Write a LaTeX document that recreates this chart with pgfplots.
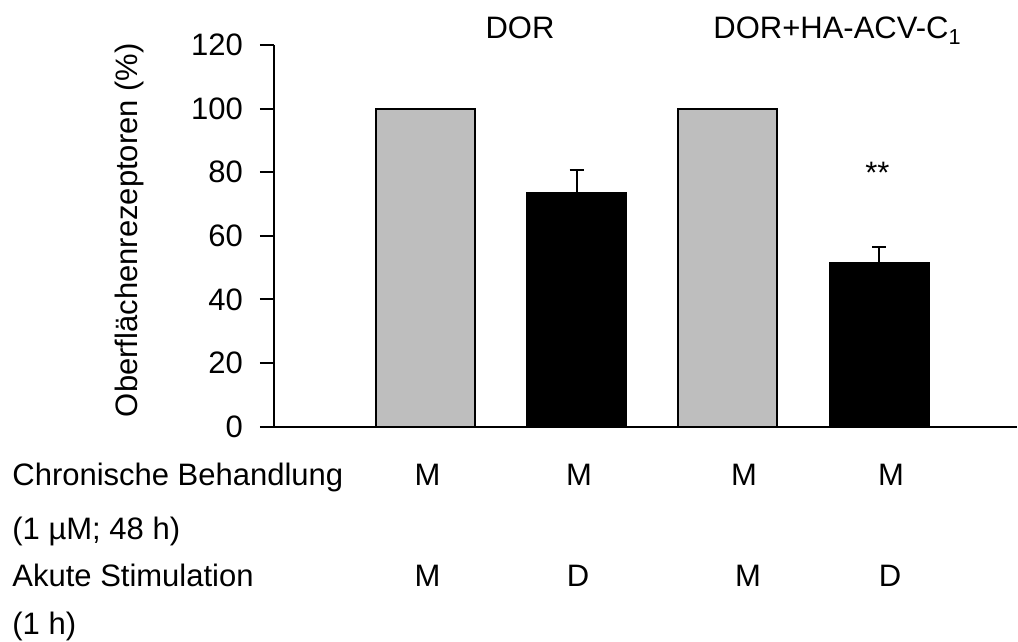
\documentclass[border=0pt]{standalone}
\usepackage{fontspec}
\setmainfont{Liberation Sans}
\usepackage{pgfplots}
\pgfplotsset{compat=1.18}
\definecolor{bargray}{RGB}{190,190,190}
\begin{document}
\begin{tikzpicture}[font=\fontsize{15.5}{18}\selectfont]
\useasboundingbox (-137pt,-107.65pt) rectangle (372pt,213.35pt);
\begin{axis}[
  scale only axis,
  width=371.5pt, height=190.85pt,
  xmin=0, xmax=4.91, ymin=0, ymax=120,
  axis x line*=bottom, axis y line*=left,
  axis line style={line width=1pt},
  xtick=\empty,
  ytick={0,20,...,120},
  ytick style={line width=1pt, black},
  tick align=outside, major tick length=7pt,
  yticklabel style={xshift=-5pt},
  /pgf/number format/assume math mode=true,
  ylabel={Oberflächenrezeptoren (\%)},
  ylabel style={at={(axis description cs:-0.194,0.515)}, anchor=center},
  ybar, bar width=49.5pt,
  clip=false,
]
\addplot[fill=bargray, draw=black, line width=1pt, bar shift=0pt]
  coordinates {(1,100) (3,100)};
\addplot[fill=black, draw=black, line width=1pt, bar shift=0pt,
  error bars/.cd, y dir=plus, y explicit,
  error bar style={line width=1pt, black},
  error mark options={rotate=90, line width=1pt, mark size=3.5pt, black}]
  coordinates {(2,73.4) +- (0,7.3) (4,51.6) +- (0,4.8)};
\end{axis}
% group names and significance
\node[anchor=base, inner sep=0pt] at (123pt,193.85pt) {DOR};
\node[anchor=base, inner sep=0pt] at (281.75pt,193.85pt) {DOR+HA-ACV-C\textsubscript{1}};
\node[anchor=base, inner sep=0pt] at (301.75pt,121.35pt) {**};
% treatment table below the axis
\node[anchor=base west, inner sep=0pt] at (-131pt,-29.65pt) {Chronische Behandlung};
\node[anchor=base west, inner sep=0pt] at (-131pt,-56.65pt) {(1 µM; 48 h)};
\node[anchor=base west, inner sep=0pt] at (-131pt,-80.15pt) {Akute Stimulation};
\node[anchor=base west, inner sep=0pt] at (-131pt,-104.15pt) {(1 h)};
\foreach \x/\t in {76.75/M, 152.5/M, 235/M, 308.5/M}
  \node[anchor=base, inner sep=0pt] at (\x pt,-29.65pt) {\t};
\foreach \x/\t in {76.75/M, 152/D, 237/M, 308/D}
  \node[anchor=base, inner sep=0pt] at (\x pt,-80.15pt) {\t};
\end{tikzpicture}
\end{document}
